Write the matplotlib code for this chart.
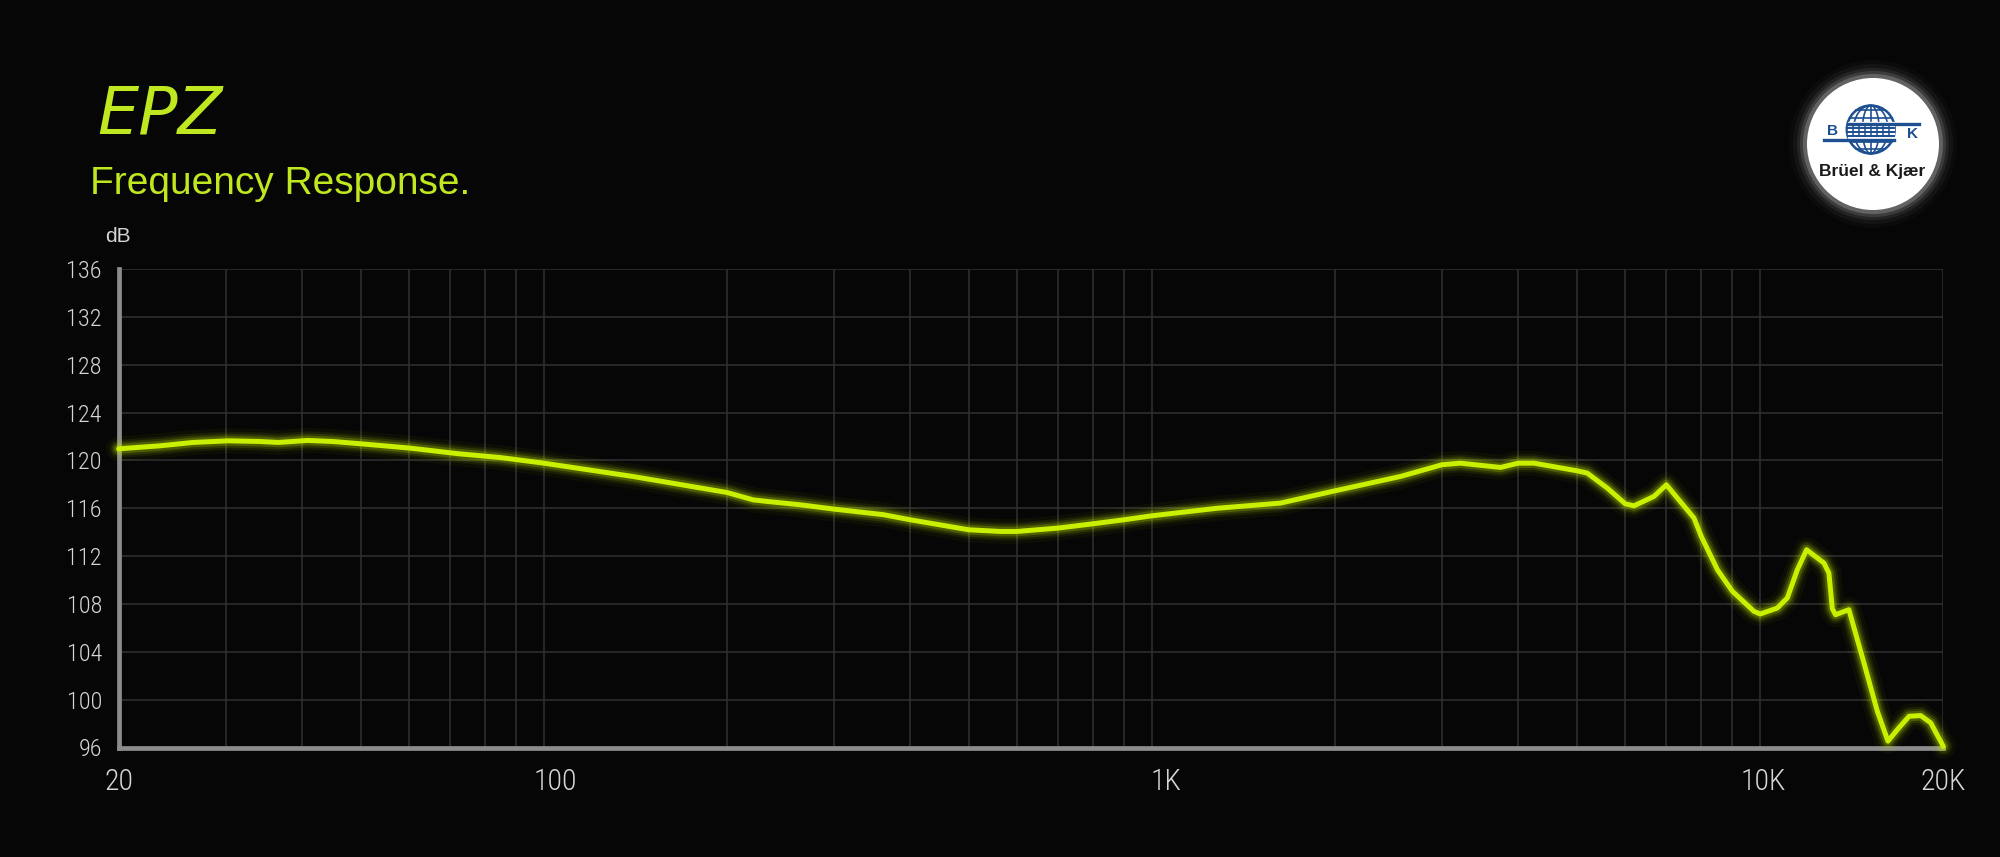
import matplotlib
matplotlib.use("Agg")
import matplotlib.pyplot as plt
from matplotlib.patches import Circle, Ellipse, Rectangle
from matplotlib.transforms import ScaledTranslation
import matplotlib.ticker as mticker
import numpy as np

# ---------------- data ----------------
freq_hz = [20, 23.4, 26.5, 30.3, 34.2, 36.6, 40.9, 45, 50, 60.2, 72.6, 84.8,
           100, 140, 200, 221, 233, 264, 300, 362, 400, 500, 563, 600, 700, 800, 900,
           1000, 1280, 1626, 2000, 2563, 3000, 3215, 3742, 4000, 4246, 5000,
           5195, 5604, 6000, 6200, 6687, 7010, 7783, 8000, 8505, 9000, 9768,
           10000, 10670, 11080, 11510, 11920, 12730, 12970, 13140, 13300,
           13990, 14810, 15580, 16220, 16810, 17570, 18360, 19070, 20000]
spl_db = [120.97, 121.22, 121.5, 121.64, 121.58, 121.5, 121.67, 121.58, 121.39,
          121.03, 120.55, 120.24, 119.77, 118.66, 117.32, 116.7, 116.57, 116.29,
          115.93, 115.46, 115.04, 114.2, 114.06, 114.06, 114.34, 114.7, 115.04,
          115.37, 116.0, 116.43, 117.46, 118.66, 119.64, 119.77, 119.41, 119.77,
          119.77, 119.13, 118.94, 117.69, 116.37, 116.2, 116.99, 117.96, 115.18,
          113.65, 110.86, 109.06, 107.38, 107.16, 107.66, 108.5, 110.86, 112.53,
          111.42, 110.58, 107.6, 107.1, 107.52, 103.07, 99.03, 96.53, 97.5, 98.61,
          98.67, 98.06, 96.1]

y_ticks = [96, 100, 104, 108, 112, 116, 120, 124, 128, 132, 136]
x_major = [20, 100, 1000, 10000, 20000]
x_major_labels = ["20", "100", "1K", "10K", "20K"]
x_minor = [30, 40, 50, 60, 70, 80, 90, 200, 300, 400, 500, 600, 700, 800, 900,
           2000, 3000, 4000, 5000, 6000, 7000, 8000, 9000]

# ---------------- style ----------------
BG = "#060606"
LIME = "#c8f000"
TITLE_LIME = "#bfe820"
GRID = "#313131"
SPINE = "#8c8c8c"
LABEL = "#d6d6d6"
NARROW = ["Roboto Condensed", "Liberation Sans Narrow", "Liberation Sans", "DejaVu Sans"]
SANS = ["Liberation Sans", "DejaVu Sans"]

W, H = 2000, 857
fig = plt.figure(figsize=(W / 100, H / 100), dpi=100, facecolor=BG)

ax = fig.add_axes([118.6 / W, (H - 747.5) / H, (1943.3 - 118.6) / W, (747.5 - 269) / H])
ax.set_facecolor(BG)
ax.set_xscale("log")
ax.set_xlim(20, 20000)
ax.set_ylim(96, 136)

ax.set_yticks(y_ticks)
ax.set_yticklabels([str(v) for v in y_ticks], fontfamily=NARROW, fontweight="light",
                   fontsize=17.5, color=LABEL)
ax.set_xticks(x_major)
ax.set_xticklabels(x_major_labels, fontfamily=NARROW, fontweight="light",
                   fontsize=21.5, color=LABEL)
ax.set_xticks(x_minor, minor=True)
ax.xaxis.set_minor_formatter(mticker.NullFormatter())
ax.tick_params(axis="both", which="both", length=0)
ax.tick_params(axis="y", pad=12)
ax.tick_params(axis="x", pad=15)

# shift some x labels as in the reference
shifts = {"100": 12, "1K": 14, "10K": 3}
for lab in ax.get_xticklabels():
    dx = shifts.get(lab.get_text(), 0)
    if dx:
        lab.set_transform(lab.get_transform() + ScaledTranslation(dx / 100, 0, fig.dpi_scale_trans))

ax.grid(True, which="both", axis="both", color=GRID, linewidth=1.1)
ax.set_axisbelow(True)

for s in ["top", "right"]:
    ax.spines[s].set_visible(False)
for s in ["left", "bottom"]:
    ax.spines[s].set_color(SPINE)
    ax.spines[s].set_linewidth(3.4)
    ax.spines[s].set_zorder(2)

# glowing curve
for lw, a in [(18, 0.04), (13, 0.07), (10, 0.12), (7, 0.22)]:
    ax.plot(freq_hz, spl_db, color=LIME, lw=lw, alpha=a, solid_joinstyle="round",
            solid_capstyle="round", clip_on=False, zorder=3)
ax.plot(freq_hz, spl_db, color=LIME, lw=3.6, solid_joinstyle="round",
        solid_capstyle="round", clip_on=False, zorder=4)

# ---------------- texts ----------------
fig.text(97 / W, 1 - 134 / H, "EPZ", color=TITLE_LIME, fontsize=47, fontstyle="italic",
         fontfamily=["DejaVu Sans"], fontweight="light", va="baseline", ha="left")
fig.text(90 / W, 1 - 194 / H, "Frequency Response.", color=TITLE_LIME, fontsize=28,
         fontfamily=SANS, va="baseline", ha="left")
fig.text(105 / W, 1 - 241.5 / H, "dB", color=LABEL, fontsize=15,
         fontfamily=SANS, va="baseline", ha="left")

# ---------------- Brüel & Kjær badge ----------------
cx, cy = 1873, 144
lax = fig.add_axes([(cx - 90) / W, (H - cy - 90) / H, 180 / W, 180 / H])
lax.set_xlim(-90, 90)
lax.set_ylim(-90, 90)
lax.set_aspect("equal")
lax.axis("off")
for r, a in [(84, 0.025), (80, 0.04), (76, 0.07), (73, 0.11), (70, 0.2)]:
    lax.add_patch(Circle((0, 0), r, color="white", alpha=a, lw=0))
lax.add_patch(Circle((0, 0), 66, color="white", lw=0))

BLUE = "#1d4f91"
gx, gy, gr = -2.2, 14.5, 24
lax.add_patch(Circle((gx, gy), gr, fill=False, ec=BLUE, lw=1.8))
for w in [0.35, 0.72]:
    lax.add_patch(Ellipse((gx, gy), 2 * gr * w, 2 * gr, fill=False, ec=BLUE, lw=1.2))
lax.plot([gx, gx], [gy - gr, gy + gr], color=BLUE, lw=1.2)
for fy in [-0.8, -0.5, 0.5, 0.8]:
    hw = gr * np.sqrt(1 - fy ** 2)
    lax.plot([gx - hw, gx + hw], [gy + fy * gr, gy + fy * gr], color=BLUE, lw=1.2)
# central band
lax.add_patch(Rectangle((gx - gr + 1, gy - 8), 2 * gr - 2, 16, color="white", zorder=3))
for by in [-6, -2, 2, 6]:
    lax.plot([gx - gr + 1, gx + gr - 1], [gy + by, gy + by], color=BLUE, lw=1.4, zorder=4)
for bx in np.arange(-18, 19, 6):
    lax.plot([gx + bx, gx + bx], [gy - 6, gy + 6], color=BLUE, lw=1.1, zorder=4)
lax.plot([-25, 46], [20, 20], color=BLUE, lw=2.4, zorder=5)
lax.plot([-49, 21], [4, 4], color=BLUE, lw=2.4, zorder=5)
lax.text(-41, 13, "B", color=BLUE, fontsize=11, fontweight="bold", ha="center", va="center",
         fontfamily=SANS, zorder=6)
lax.text(39, 10, "K", color=BLUE, fontsize=11, fontweight="bold", ha="center", va="center",
         fontfamily=SANS, zorder=6)
lax.text(-1, -27.5, "Brüel & Kjær", color="#1a1a1a", fontsize=12.5, fontweight="bold",
         ha="center", va="center", fontfamily=SANS, zorder=6)

fig.savefig("out.png", dpi=100, facecolor=BG)
